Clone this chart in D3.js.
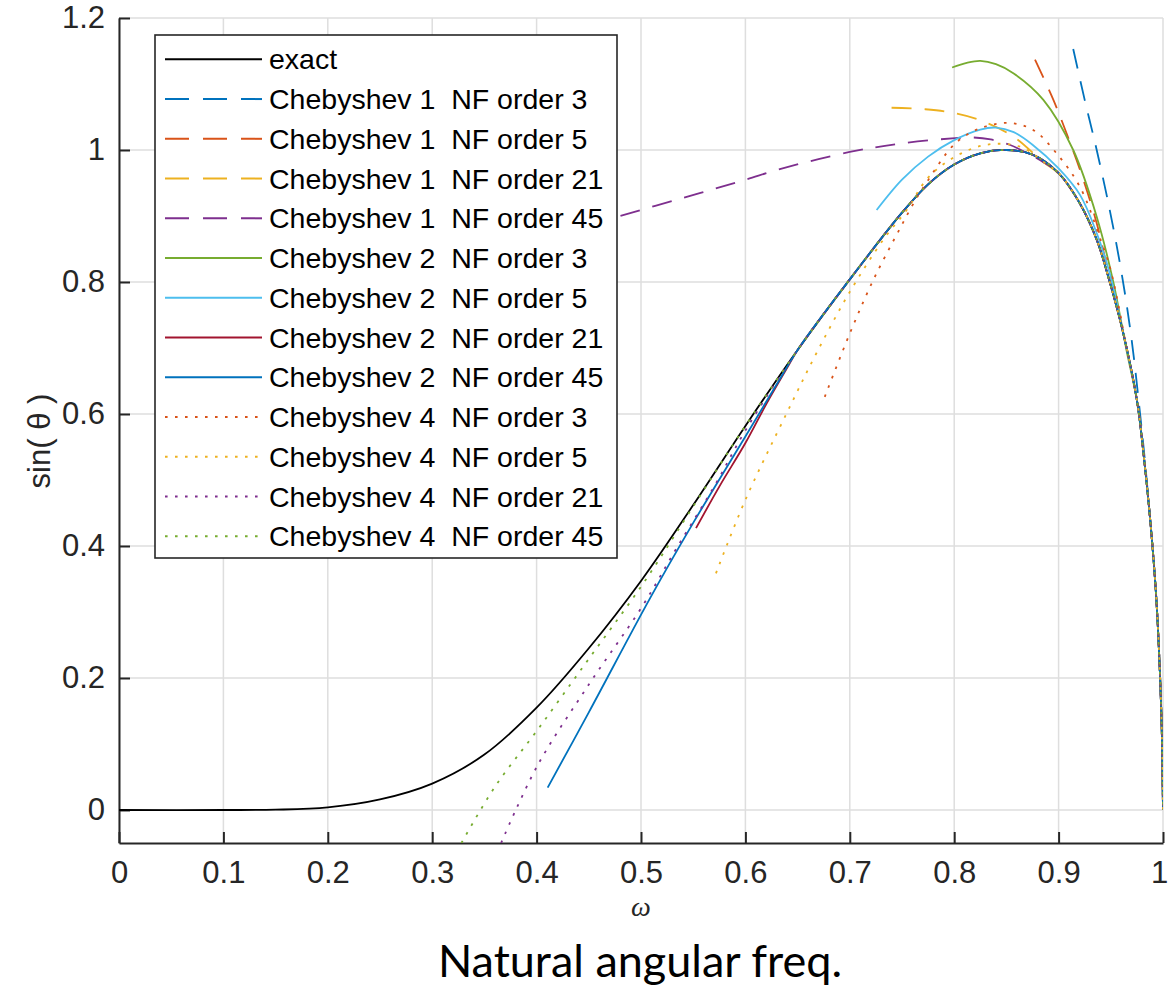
<!DOCTYPE html>
<html>
<head>
<meta charset="utf-8">
<script src="https://cdn.jsdelivr.net/npm/d3@7"></script>
<style>
  body { margin: 0; background: #fff; }
  svg { display: block; }
</style>
</head>
<body>
<div id="chart"></div>
<script>
// tick values
const xTicks = [0, 0.1, 0.2, 0.3, 0.4, 0.5, 0.6, 0.7, 0.8, 0.9, 1]
const yTicks = [0, 0.2, 0.4, 0.6, 0.8, 1, 1.2]

// [omega, sin(theta)]
const exact = [[0, 0], [0.1, 0], [0.15, 0.0005], [0.2, 0.004], [0.25, 0.016], [0.3, 0.040], [0.35, 0.084],
  [0.4, 0.155], [0.45, 0.245], [0.5, 0.347], [0.55, 0.462], [0.6, 0.582], [0.65, 0.697], [0.7, 0.804],
  [0.75, 0.905], [0.775, 0.948], [0.8, 0.978], [0.825, 0.995], [0.85, 1.0], [0.875, 0.993], [0.9, 0.965],
  [0.92, 0.92], [0.9365, 0.864], [0.949, 0.80], [0.962, 0.722], [0.975, 0.621], [0.981, 0.545],
  [0.9875, 0.444], [0.9933, 0.328], [0.997, 0.21], [0.999, 0.11], [1, 0]]

const cheb1_3 = [[0.914, 1.153], [0.925, 1.076], [0.9365, 1.0], [0.949, 0.909], [0.9604, 0.813], [0.970, 0.712],
  [0.978, 0.601], [0.982, 0.54], [0.9875, 0.444], [0.9933, 0.328], [0.997, 0.21], [0.999, 0.11], [1, 0]]
const cheb1_5 = [[0.8774, 1.137], [0.895, 1.076], [0.9077, 1.025], [0.9205, 0.970], [0.9365, 0.889], [0.949, 0.805],
  [0.962, 0.722], [0.975, 0.621], [0.981, 0.545], [0.9875, 0.444], [0.9933, 0.328], [0.997, 0.21], [0.999, 0.11], [1, 0]]
const cheb1_21 = [[0.740, 1.064], [0.77, 1.062], [0.793, 1.058], [0.825, 1.045], [0.857, 1.020], [0.885, 0.982],
  [0.9, 0.964], [0.92, 0.92], [0.9365, 0.864], [0.949, 0.80], [0.962, 0.722], [0.975, 0.621], [0.981, 0.545],
  [0.9875, 0.444], [0.9933, 0.328], [0.997, 0.21], [0.999, 0.11], [1, 0]]
const cheb1_45 = [[0.42, 0.871], [0.478, 0.899], [0.557, 0.935], [0.600, 0.955], [0.633, 0.971], [0.700, 0.997],
  [0.75, 1.010], [0.801, 1.018], [0.818, 1.019], [0.835, 1.016], [0.853, 1.008], [0.869, 0.996], [0.885, 0.982],
  [0.9, 0.965], [0.92, 0.92], [0.9365, 0.864], [0.949, 0.80], [0.962, 0.722], [0.975, 0.621], [0.981, 0.545],
  [0.9875, 0.444], [0.9933, 0.328], [0.997, 0.21], [0.999, 0.11], [1, 0]]
const cheb2_3 = [[0.798, 1.125], [0.812, 1.132], [0.825, 1.135], [0.84, 1.130], [0.857, 1.116], [0.8854, 1.076],
  [0.914, 1.0], [0.9365, 0.899], [0.9524, 0.80], [0.965, 0.697], [0.975, 0.621], [0.981, 0.545],
  [0.9875, 0.444], [0.9933, 0.328], [0.997, 0.21], [0.999, 0.11], [1, 0]]
const cheb2_5 = [[0.7257, 0.909], [0.75, 0.955], [0.775, 0.99], [0.8, 1.015], [0.825, 1.031], [0.84, 1.034],
  [0.857, 1.027], [0.875, 1.008], [0.9, 0.972], [0.9205, 0.932], [0.9365, 0.874],
  [0.949, 0.813], [0.962, 0.722], [0.975, 0.621], [0.981, 0.545], [0.9875, 0.444], [0.9933, 0.328],
  [0.997, 0.21], [0.999, 0.11], [1, 0]]
const cheb2_21 = [[0.5527, 0.427], [0.575, 0.49], [0.600, 0.556], [0.62, 0.615], [0.64, 0.67], [0.65, 0.697],
  [0.7, 0.804], [0.75, 0.905], [0.775, 0.948], [0.8, 0.978], [0.825, 0.995], [0.85, 1.0], [0.875, 0.993],
  [0.9, 0.965], [0.92, 0.92], [0.9365, 0.864], [0.949, 0.80], [0.962, 0.722], [0.975, 0.621], [0.981, 0.545],
  [0.9875, 0.444], [0.9933, 0.328], [0.997, 0.21], [0.999, 0.11], [1, 0]]
const cheb2_45 = [[0.4106, 0.034], [0.45, 0.148], [0.5086, 0.3207], [0.55, 0.435], [0.6, 0.566], [0.63, 0.645],
  [0.65, 0.697], [0.7, 0.804], [0.75, 0.905], [0.775, 0.948], [0.8, 0.978], [0.825, 0.995], [0.85, 1.0],
  [0.875, 0.993], [0.9, 0.965], [0.92, 0.92], [0.9365, 0.864], [0.949, 0.80], [0.962, 0.722], [0.975, 0.621],
  [0.981, 0.545], [0.9875, 0.444], [0.9933, 0.328], [0.997, 0.21], [0.999, 0.11], [1, 0]]
const cheb4_3 = [[0.676, 0.626], [0.700, 0.722], [0.7225, 0.803], [0.748, 0.881], [0.761, 0.919], [0.7753, 0.955],
  [0.801, 1.010], [0.825, 1.033], [0.853, 1.041], [0.876, 1.030], [0.898, 0.995], [0.9205, 0.944], [0.94, 0.865],
  [0.949, 0.823], [0.9588, 0.753], [0.965, 0.70], [0.975, 0.621], [0.981, 0.545], [0.9875, 0.444],
  [0.9933, 0.328], [0.997, 0.21], [0.999, 0.11], [1, 0]]
const cheb4_5 = [[0.5718, 0.3586], [0.600, 0.470], [0.6395, 0.601], [0.668, 0.692], [0.700, 0.785], [0.732, 0.864],
  [0.754, 0.908], [0.775, 0.958], [0.801, 0.990], [0.831, 1.008], [0.863, 1.005], [0.889, 0.978], [0.9, 0.965],
  [0.92, 0.92], [0.9365, 0.864], [0.949, 0.80], [0.962, 0.722], [0.975, 0.621], [0.981, 0.545],
  [0.9875, 0.444], [0.9933, 0.328], [0.997, 0.21], [0.999, 0.11], [1, 0]]
const cheb4_21 = [[0.366, -0.05], [0.4007, 0.067], [0.45, 0.19], [0.501, 0.308], [0.534, 0.3965], [0.57, 0.49],
  [0.6, 0.575], [0.65, 0.697], [0.7, 0.804], [0.75, 0.905], [0.775, 0.948], [0.8, 0.978], [0.825, 0.995],
  [0.85, 1.0], [0.875, 0.993], [0.9, 0.965], [0.92, 0.92], [0.9365, 0.864], [0.949, 0.80], [0.962, 0.722],
  [0.975, 0.621], [0.981, 0.545], [0.9875, 0.444], [0.9933, 0.328], [0.997, 0.21], [0.999, 0.11], [1, 0]]
const cheb4_45 = [[0.328, -0.05], [0.36, 0.035], [0.4007, 0.121], [0.45, 0.229], [0.502, 0.343], [0.55, 0.46],
  [0.6, 0.582], [0.65, 0.697], [0.7, 0.804], [0.75, 0.905], [0.775, 0.948], [0.8, 0.978], [0.825, 0.995],
  [0.85, 1.0], [0.875, 0.993], [0.9, 0.965], [0.92, 0.92], [0.9365, 0.864], [0.949, 0.80], [0.962, 0.722],
  [0.975, 0.621], [0.981, 0.545], [0.9875, 0.444], [0.9933, 0.328], [0.997, 0.21], [0.999, 0.11], [1, 0]]

const labels = ['exact',
  'Chebyshev 1  NF order 3', 'Chebyshev 1  NF order 5', 'Chebyshev 1  NF order 21', 'Chebyshev 1  NF order 45',
  'Chebyshev 2  NF order 3', 'Chebyshev 2  NF order 5', 'Chebyshev 2  NF order 21', 'Chebyshev 2  NF order 45',
  'Chebyshev 4  NF order 3', 'Chebyshev 4  NF order 5', 'Chebyshev 4  NF order 21', 'Chebyshev 4  NF order 45']
const seriesData = [exact, cheb1_3, cheb1_5, cheb1_21, cheb1_45, cheb2_3, cheb2_5, cheb2_21, cheb2_45,
  cheb4_3, cheb4_5, cheb4_21, cheb4_45]

// matlab default line colours
const colors = ['#000000', '#0072BD', '#D95319', '#EDB120', '#7E2F8E', '#77AC30', '#4DBEEE', '#A2142F',
  '#0072BD', '#D95319', '#EDB120', '#7E2F8E', '#77AC30']
const styles = ['solid', 'dash', 'dash', 'dash', 'dash', 'solid', 'solid', 'solid', 'solid',
  'dot', 'dot', 'dot', 'dot']

const dashes = {solid: null, dash: '20,13', dot: '2.6,7.4'}
const legendDashes = {solid: null, dash: '24,14', dot: '2.6,7.4'}

const width = 1168, height = 993
const axisColor = '#262626'
const tickFont = '"Liberation Sans", Arial, Helvetica, sans-serif'

const x = d3.scaleLinear().domain([0, 1]).range([119, 1163])
const y = d3.scaleLinear().domain([-0.05, 1.2]).range([843, 18])

const svg = d3.select('#chart').append('svg')
  .attr('width', width)
  .attr('height', height)

svg.append('defs').append('clipPath')
  .attr('id', 'plot-clip')
  .append('rect')
  .attr('x', x(0)).attr('y', y(1.2))
  .attr('width', x(1) - x(0)).attr('height', y(-0.05) - y(1.2))

// grid
const grid = svg.append('g').attr('class', 'grid')
grid.selectAll('.vgrid').data(xTicks).enter().append('line')
  .attr('x1', d => x(d)).attr('x2', d => x(d))
  .attr('y1', y(-0.05)).attr('y2', y(1.2))
  .attr('stroke', '#dedede').attr('stroke-width', 1.5)
grid.selectAll('.hgrid').data(yTicks).enter().append('line')
  .attr('x1', x(0)).attr('x2', x(1))
  .attr('y1', d => y(d)).attr('y2', d => y(d))
  .attr('stroke', '#dedede').attr('stroke-width', 1.5)

// axes
const fmt = d => String(+d.toFixed(1))
const xAxis = d3.axisBottom(x).tickValues(xTicks).tickFormat(fmt)
  .tickSizeInner(-11).tickSizeOuter(0).tickPadding(18)
const yAxis = d3.axisLeft(y).tickValues(yTicks).tickFormat(fmt)
  .tickSizeInner(-11).tickSizeOuter(0).tickPadding(14)

const gx = svg.append('g').attr('transform', `translate(0, ${y(-0.05)})`).call(xAxis)
const gy = svg.append('g').attr('transform', `translate(${x(0)}, 0)`).call(yAxis)
;[gx, gy].forEach(g => {
  g.selectAll('path, line').attr('stroke', axisColor).attr('stroke-width', 2)
  g.selectAll('text').attr('fill', axisColor)
    .style('font-family', tickFont).style('font-size', '31px')
})
// last x label sits on the figure edge
gx.selectAll('.tick text').filter(d => d === 1).attr('dx', -4)

// curves
const line = d3.line()
  .x(d => x(d[0]))
  .y(d => y(d[1]))
  .curve(d3.curveCatmullRom.alpha(0.5))

const plot = svg.append('g').attr('clip-path', 'url(#plot-clip)')
seriesData.forEach((data, i) => {
  plot.append('path')
    .datum(data)
    .attr('d', line)
    .attr('fill', 'none')
    .attr('stroke', colors[i])
    .attr('stroke-width', 1.8)
    .attr('stroke-dasharray', dashes[styles[i]])
})

// legend
const legend = svg.append('g').attr('class', 'legend')
legend.append('rect')
  .attr('x', 155).attr('y', 35)
  .attr('width', 462).attr('height', 523)
  .attr('fill', '#fff')
  .attr('stroke', axisColor).attr('stroke-width', 1.6)
const rows = legend.selectAll('.row').data(labels).enter().append('g')
  .attr('transform', (d, i) => `translate(0, ${59.3 + i * 39.75})`)
rows.append('line')
  .attr('x1', 165).attr('x2', 262)
  .attr('stroke', (d, i) => colors[i])
  .attr('stroke-width', 2)
  .attr('stroke-dasharray', (d, i) => legendDashes[styles[i]])
rows.append('text')
  .attr('x', 269)
  .attr('dy', '0.35em')
  .style('font-family', tickFont)
  .style('font-size', '28.5px')
  .style('white-space', 'pre')
  .attr('fill', '#000')
  .text(d => d)

// labels
svg.append('text')
  .attr('transform', 'translate(50, 441) rotate(-90)')
  .attr('text-anchor', 'middle')
  .style('font-family', tickFont)
  .style('font-size', '31px')
  .attr('fill', axisColor)
  .style('white-space', 'pre')
  .text('sin( θ )')

svg.append('text')
  .attr('x', 641).attr('y', 916)
  .attr('text-anchor', 'middle')
  .style('font-family', '"Liberation Serif", "DejaVu Serif", serif')
  .style('font-style', 'italic')
  .style('font-size', '28px')
  .attr('fill', axisColor)
  .text('ω')

svg.append('text')
  .attr('x', 640).attr('y', 977)
  .attr('text-anchor', 'middle')
  .style('font-family', 'Lato, "Open Sans", sans-serif')
  .style('font-size', '45px')
  .attr('fill', '#000')
  .text('Natural angular freq.')
</script>
</body>
</html>
